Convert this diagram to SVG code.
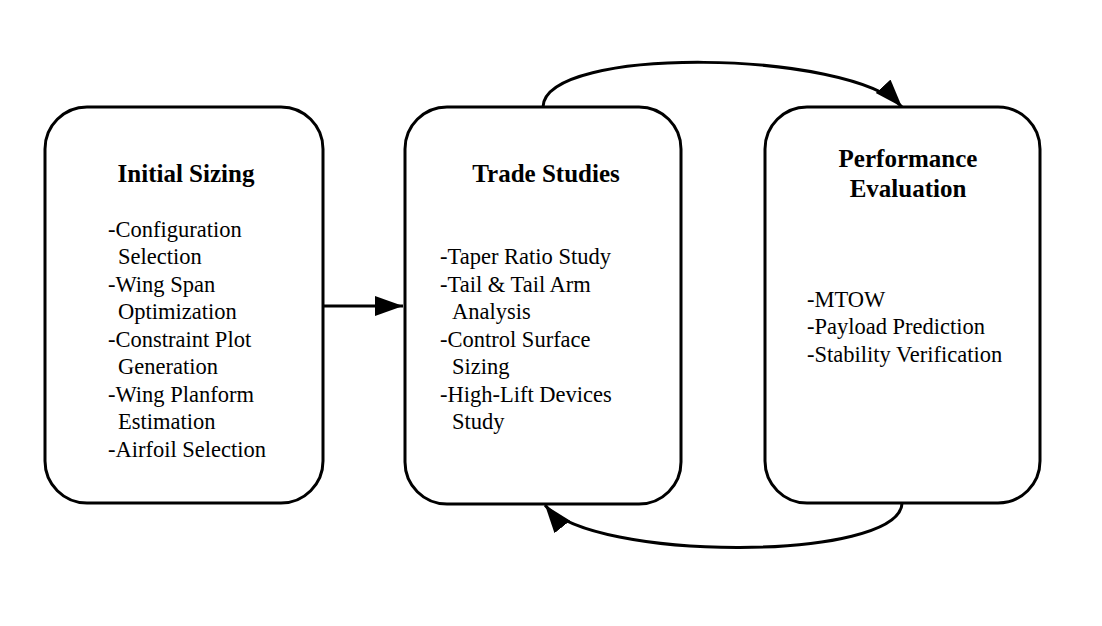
<svg xmlns="http://www.w3.org/2000/svg" width="1102" height="626" viewBox="0 0 1102 626">
<style>
.box{fill:#fff;stroke:#000;stroke-width:3}
.title{font-family:"Liberation Serif","Times New Roman",serif;font-weight:bold;font-size:25px;fill:#000;text-anchor:middle}
.body{font-family:"Liberation Serif","Times New Roman",serif;font-size:22.5px;fill:#000}
.conn{fill:none;stroke:#000;stroke-width:3}
</style>
<defs>
<marker id="ah" markerUnits="userSpaceOnUse" markerWidth="30" markerHeight="22" refX="28" refY="10" orient="auto">
<path d="M0,0 L28,10 L0,20 z" fill="#000"/>
</marker>
</defs>
<rect width="1102" height="626" fill="#fff"/>
<g id="connectors">
<path class="conn" d="M323,306 L403,306" marker-end="url(#ah)"/>
<path class="conn" d="M543,107 C545,45 850,50 902,107" marker-end="url(#ah)"/>
<path class="conn" d="M902,503 C900,562 590,562 545,505" marker-end="url(#ah)"/>
</g>
<g id="initial-sizing">
<rect class="box" x="45" y="107" width="278" height="396" rx="42" ry="42"/>
<text class="title" x="186" y="182">Initial Sizing</text>
<text class="body" x="108" y="236.5">-Configuration</text>
<text class="body" x="118" y="264">Selection</text>
<text class="body" x="108" y="291.5">-Wing Span</text>
<text class="body" x="118" y="319">Optimization</text>
<text class="body" x="108" y="346.5">-Constraint Plot</text>
<text class="body" x="118" y="374">Generation</text>
<text class="body" x="108" y="401.5">-Wing Planform</text>
<text class="body" x="118" y="429">Estimation</text>
<text class="body" x="108" y="456.5">-Airfoil Selection</text>
</g>
<g id="trade-studies">
<rect class="box" x="405" y="107" width="276" height="397" rx="42" ry="42"/>
<text class="title" x="546" y="182">Trade Studies</text>
<text class="body" x="440" y="264">-Taper Ratio Study</text>
<text class="body" x="440" y="291.5">-Tail &amp; Tail Arm</text>
<text class="body" x="452" y="319">Analysis</text>
<text class="body" x="440" y="346.5">-Control Surface</text>
<text class="body" x="452" y="374">Sizing</text>
<text class="body" x="440" y="401.5">-High-Lift Devices</text>
<text class="body" x="452" y="429">Study</text>
</g>
<g id="performance-evaluation">
<rect class="box" x="765" y="107" width="275" height="396" rx="42" ry="42"/>
<text class="title" x="908" y="167">Performance</text>
<text class="title" x="908" y="197">Evaluation</text>
<text class="body" x="807" y="306.5">-MTOW</text>
<text class="body" x="807" y="334">-Payload Prediction</text>
<text class="body" x="807" y="361.5">-Stability Verification</text>
</g>
</svg>
